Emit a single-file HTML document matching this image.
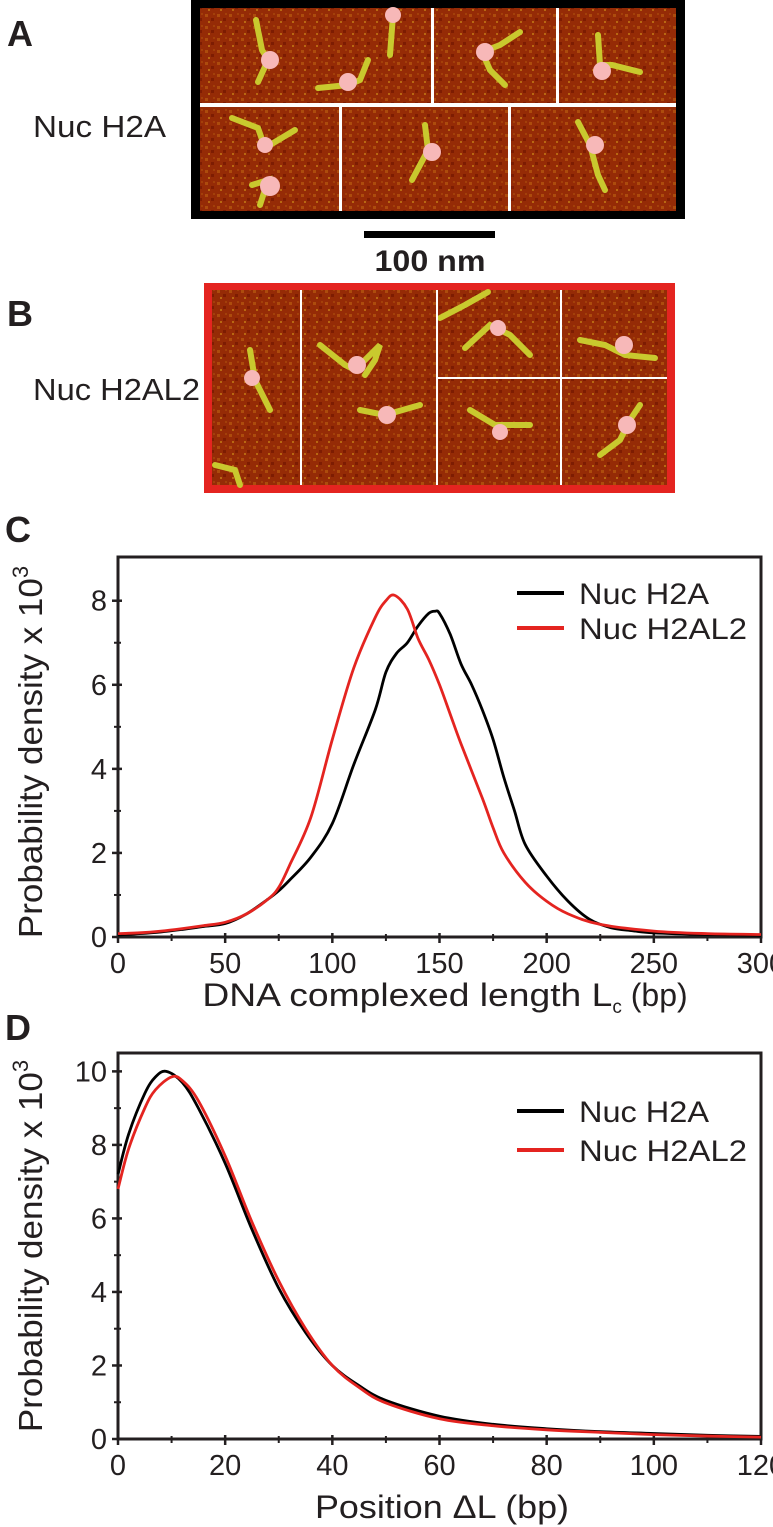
<!DOCTYPE html>
<html><head><meta charset="utf-8"><style>
html,body{margin:0;padding:0;background:#fff;}
svg{display:block;}
text{font-family:"Liberation Sans",sans-serif;fill:#231f20;}
.b{font-family:"Liberation Sans",sans-serif;font-weight:bold;}
</style></head><body>
<svg id="fig" width="773" height="1527" viewBox="0 0 773 1527">
<defs>
<pattern id="noise" width="12" height="12" patternUnits="userSpaceOnUse">
<rect width="12" height="12" fill="#952b06"/>
<rect x="1" y="2" width="3" height="3" fill="#ad4c0d"/>
<rect x="7" y="6" width="3" height="3" fill="#7d1c02"/>
<rect x="4" y="9" width="2" height="2" fill="#b86812"/>
<rect x="9" y="1" width="2" height="2" fill="#a3400a"/>
</pattern>
</defs>
<!-- Panel A -->
<text class="b" x="7" y="46" font-size="36">A</text>
<text x="33" y="137" font-size="31" textLength="133" lengthAdjust="spacingAndGlyphs">Nuc H2A</text>
<g>
<rect x="191" y="0" width="494" height="219" fill="#000"/>
<rect x="200" y="8" width="476" height="203" fill="url(#noise)"/>
<g stroke="#c9c92e" stroke-width="6" fill="none" stroke-linecap="round">
<polyline points="256,20 262,50 268,60 258,82"/><polyline points="368,60 360,80 348,85 318,88"/><polyline points="393,15 390,55"/>
<polyline points="520,32 500,45 482,52 490,70 505,85"/><polyline points="598,35 600,65 612,65 640,72"/>
<polyline points="232,118 258,128 265,148 295,130"/><polyline points="252,185 268,180 260,205"/>
<polyline points="425,125 428,150 412,180"/><polyline points="578,122 590,145 598,175 605,190"/>
</g>
<g fill="#f7b8b8"><circle cx="270" cy="60" r="9"/><circle cx="348" cy="82" r="9"/><circle cx="393" cy="15" r="8"/>
<circle cx="485" cy="52" r="9"/><circle cx="602" cy="71" r="9"/><circle cx="265" cy="145" r="8"/><circle cx="270" cy="186" r="10"/>
<circle cx="432" cy="152" r="9"/><circle cx="595" cy="145" r="9"/></g>
<rect x="200" y="103" width="476" height="4" fill="#fff"/>
<rect x="431" y="8" width="3" height="96" fill="#fff"/><rect x="556" y="8" width="3" height="96" fill="#fff"/>
<rect x="339" y="106" width="3" height="105" fill="#fff"/><rect x="508" y="106" width="3" height="105" fill="#fff"/>
</g>
<rect x="364" y="231" width="131" height="7" fill="#000"/>
<text class="b" x="430" y="271" font-size="30" text-anchor="middle" textLength="111" lengthAdjust="spacingAndGlyphs">100 nm</text>
<!-- Panel B -->
<text class="b" x="7" y="326" font-size="36">B</text>
<text x="33" y="400" font-size="31" textLength="167" lengthAdjust="spacingAndGlyphs">Nuc H2AL2</text>
<g>
<rect x="204" y="283" width="471" height="210" fill="#e42420"/>
<rect x="212" y="290" width="455" height="195" fill="url(#noise)"/>
<g stroke="#c9c92e" stroke-width="6" fill="none" stroke-linecap="round">
<polyline points="250,350 255,380 270,410"/><polyline points="215,465 235,470 240,485"/>
<polyline points="320,345 345,365 355,370 380,345 375,360 365,375"/><polyline points="360,410 385,415 420,405"/>
<polyline points="440,318 465,305 488,292"/><polyline points="465,348 490,325 510,335 530,355"/>
<polyline points="580,340 605,345 625,355 655,358"/><polyline points="470,410 495,425 530,425"/>
<polyline points="600,455 620,440 630,420 640,405"/>
</g>
<g fill="#f7b8b8"><circle cx="252" cy="378" r="8"/><circle cx="357" cy="365" r="9"/><circle cx="387" cy="415" r="9"/>
<circle cx="498" cy="328" r="8"/><circle cx="624" cy="345" r="9"/><circle cx="500" cy="432" r="8"/><circle cx="627" cy="425" r="9"/></g>
<rect x="300" y="290" width="2" height="195" fill="#fff"/><rect x="436" y="290" width="2" height="195" fill="#fff"/>
<rect x="560" y="290" width="2" height="195" fill="#fff"/><rect x="437" y="377" width="230" height="2" fill="#fff"/>
</g>
<!-- Panel C -->
<text class="b" x="5" y="542" font-size="36">C</text>
<g id="chartC"></g>
<!-- Panel D -->
<text class="b" x="5" y="1040" font-size="36">D</text>
<g id="chartD"></g>
</svg>
<script>
// Panel C data
const cXH2A = [0,10,20,30,40,50,60,70,75,80,90,100,110,120,125,130,135,140,145,148,150,155,160,165,170,175,180,185,190,200,210,220,230,240,250,275,300];
const cYH2A = [0.05,0.08,0.12,0.18,0.25,0.32,0.55,0.9,1.1,1.35,1.9,2.7,4.1,5.4,6.3,6.75,7.0,7.4,7.7,7.75,7.7,7.2,6.5,6.0,5.4,4.7,3.8,3.0,2.2,1.45,0.85,0.42,0.22,0.15,0.1,0.06,0.04];
const cXH2AL2 = [0,10,20,30,40,50,60,70,75,80,90,100,110,120,125,129,135,140,145,150,155,160,170,175,180,190,200,210,225,250,275,300];
const cYH2AL2 = [0.08,0.1,0.14,0.2,0.27,0.35,0.55,0.9,1.18,1.7,2.85,4.7,6.4,7.6,8.0,8.13,7.8,7.1,6.6,6.0,5.3,4.6,3.3,2.6,2.0,1.3,0.85,0.55,0.3,0.14,0.08,0.06];
const cXTicks = [0,50,100,150,200,250,300];
const cYTicks = [0,2,4,6,8];
// Panel D data
const dXH2A = [0,2,5,7,9,12,15,20,25,30,35,40,45,50,60,70,80,90,100,110,120];
const dYH2A = [7.2,8.3,9.4,9.85,10.0,9.7,9.0,7.5,5.7,4.1,2.9,2.0,1.45,1.05,0.62,0.4,0.28,0.2,0.15,0.1,0.07];
const dXH2AL2 = [0,2,5,7,10,12,15,20,25,30,35,40,45,50,60,70,80,90,100,110,120];
const dYH2AL2 = [6.8,7.9,9.0,9.5,9.85,9.75,9.2,7.7,5.9,4.3,3.0,2.0,1.4,0.98,0.55,0.36,0.25,0.18,0.12,0.08,0.05];
const dXTicks = [0,20,40,60,80,100,120];
const dYTicks = [0,2,4,6,8,10];
const seriesNames = ["Nuc H2A","Nuc H2AL2"];
const NS="http://www.w3.org/2000/svg";
function mk(parent,tag,attrs){const e=document.createElementNS(NS,tag);for(const k in attrs)e.setAttribute(k,attrs[k]);parent.appendChild(e);return e;}
function smooth(pts){let d="M"+pts[0][0]+","+pts[0][1];for(let i=0;i<pts.length-1;i++){const p0=pts[Math.max(0,i-1)],p1=pts[i],p2=pts[i+1],p3=pts[Math.min(pts.length-1,i+2)];
const c1=[p1[0]+(p2[0]-p0[0])/6,p1[1]+(p2[1]-p0[1])/6],c2=[p2[0]-(p3[0]-p1[0])/6,p2[1]-(p3[1]-p1[1])/6];
d+=" C"+c1[0].toFixed(2)+","+c1[1].toFixed(2)+" "+c2[0].toFixed(2)+","+c2[1].toFixed(2)+" "+p2[0].toFixed(2)+","+p2[1].toFixed(2);}return d;}
function chart(g,o){
 const sx=v=>o.x0+(v-o.xmin)/(o.xmax-o.xmin)*(o.x1-o.x0);
 const sy=v=>o.yb-(v/o.ymax)*(o.yb-o.yt);
 const frame=mk(g,'rect',{x:o.x0,y:o.yt,width:o.x1-o.x0,height:o.yb-o.yt,fill:'none',stroke:'#231f20','stroke-width':3});
 
 
 const xstep=o.xTicks[1]-o.xTicks[0];
 for(let i=0;i<o.xTicks.length;i++){const v=o.xTicks[i];const x=sx(v);
  const t=mk(g,'line',{x1:x,x2:x,y1:o.yb-4,y2:o.yb+6,stroke:'#231f20','stroke-width':2.5});
  
  
  const l=mk(g,'text',{x:x,y:o.yb+36,'font-size':29,'text-anchor':'middle'});l.textContent=v;
  
  
  if(i<o.xTicks.length-1){const xm=sx(v+xstep/2);const m=mk(g,'line',{x1:xm,x2:xm,y1:o.yb-3,y2:o.yb+4,stroke:'#231f20','stroke-width':2});
   
   }
 }
 const ystep=o.yTicks[1]-o.yTicks[0];
 for(let i=0;i<o.yTicks.length;i++){const v=o.yTicks[i];const y=sy(v);
  const t=mk(g,'line',{x1:o.x0-6,x2:o.x0+4,y1:y,y2:y,stroke:'#231f20','stroke-width':2.5});
  
  
  const l=mk(g,'text',{x:o.x0-11,y:y+10,'font-size':29,'text-anchor':'end'});l.textContent=v;
  
  
  const ym=sy(v+ystep/2);if(ym>o.yt+2){const m=mk(g,'line',{x1:o.x0-4,x2:o.x0+3,y1:ym,y2:ym,stroke:'#231f20','stroke-width':2});
   
   }
 }
 const sers=[[o.xa,o.ya,'#000'],[o.xb,o.yb2,'#e42420']];
 sers.forEach((s,k)=>{const pts=s[0].map((x,i)=>[sx(x),sy(s[1][i])]);
  const p=mk(g,'path',{d:smooth(pts),fill:'none',stroke:s[2],'stroke-width':2.8,'stroke-linejoin':'round'});
  
  
  const ly=o.legY+k*(o.legGap);
  const ll=mk(g,'line',{x1:517,x2:564,y1:ly,y2:ly,stroke:s[2],'stroke-width':4});
  
  
  const lt=mk(g,'text',{x:579,y:ly+11,'font-size':30,textLength:k==0?130:168,lengthAdjust:'spacingAndGlyphs'});lt.textContent=seriesNames[k];
  
  
 });
 const yt=mk(g,'text',{x:0,y:0,'font-size':33,'text-anchor':'middle',transform:'translate(42,'+o.ytc+') rotate(-90)'});
 
 
 yt.innerHTML='<tspan textLength="360" lengthAdjust="spacingAndGlyphs">Probability density x 10</tspan><tspan dy="-14" font-size="22">3</tspan>';
 const xt=mk(g,'text',{x:o.xtc,y:o.xty,'font-size':32,'text-anchor':'middle'});
 
 
 xt.innerHTML=o.xtitle;
}
chart(document.getElementById('chartC'),{x0:118,x1:761,yt:557,yb:937,xmin:0,xmax:300,ymax:9.04,xTicks:cXTicks,yTicks:cYTicks,
 xa:cXH2A,ya:cYH2A,xb:cXH2AL2,yb2:cYH2AL2,legY:593,legGap:35,ytc:752,xtc:445,xty:1006,
 xtitle:'<tspan textLength="410" lengthAdjust="spacingAndGlyphs">DNA complexed length L</tspan><tspan dy="7" font-size="19">c</tspan><tspan dy="-7"> (bp)</tspan>'});
chart(document.getElementById('chartD'),{x0:118,x1:761,yt:1053,yb:1439,xmin:0,xmax:120,ymax:10.5,xTicks:dXTicks,yTicks:dYTicks,
 xa:dXH2A,ya:dYH2A,xb:dXH2AL2,yb2:dYH2AL2,legY:1111,legGap:39,ytc:1246,xtc:442,xty:1518,
 xtitle:'<tspan textLength="254" lengthAdjust="spacingAndGlyphs">Position \u0394L (bp)</tspan>'});
</script>
</body></html>
